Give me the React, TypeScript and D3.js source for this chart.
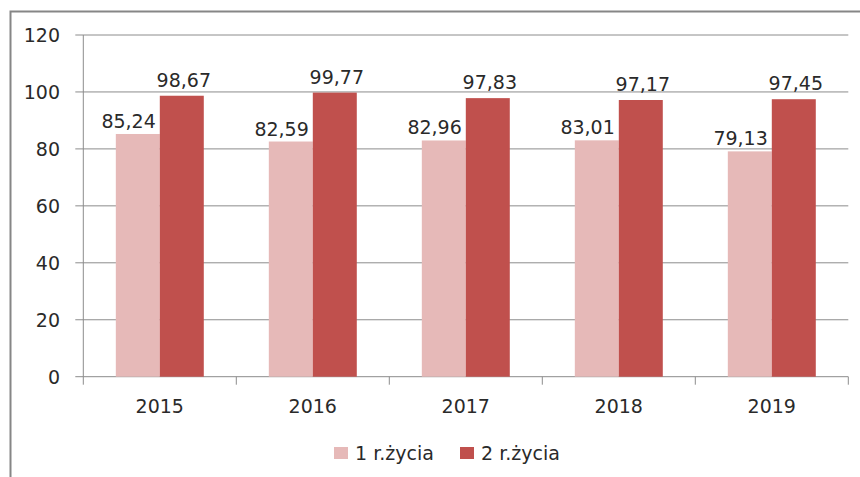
import React from 'react';
import * as d3 from 'd3';

const years = ['2015', '2016', '2017', '2018', '2019'];
const series = ['1 r.życia', '2 r.życia'];
const firstYear = [85.24, 82.59, 82.96, 83.01, 79.13];
const secondYear = [98.67, 99.77, 97.83, 97.17, 97.45];
const yTicks = [0, 20, 40, 60, 80, 100, 120];

const colors = ['#E6B9B8', '#C0504D'];
const W = 860;
const H = 477;
const font = '"DejaVu Sans", Verdana, sans-serif';
const fontSize = 19;
const textColor = '#2a2a2a';
const gridColor = '#8c8c8c';

const fmt = (v: number) => v.toFixed(2).replace('.', ',');

export default function App() {
  const left = 83.3;
  const right = 848.3;
  const top = 35;
  const bottom = 376.7;

  const y = d3.scaleLinear().domain([0, 120]).range([bottom, top]);
  const x = d3
    .scaleBand<string>()
    .domain(years)
    .range([left, right])
    .paddingInner(0.425)
    .paddingOuter(0.2125);
  const inner = d3.scaleBand<string>().domain(series).range([0, x.bandwidth()]);
  const step = x.step();
  const bounds = d3.range(years.length + 1).map(i => left + i * step);
  const values = [firstYear, secondYear];

  return (
    <svg
      width={W}
      height={H}
      style={{ position: 'fixed', left: 0, top: 0, background: '#fff' }}
      fontFamily={font}
    >
      {/* outer frame, cropped at right and bottom */}
      <rect x={10.5} y={11.5} width={W + 20} height={H + 20} fill="none" stroke="#868686" strokeWidth={2} />

      {/* gridlines + y ticks */}
      {yTicks.map(t => (
        <g key={t}>
          <line x1={left - 8} x2={right} y1={y(t)} y2={y(t)} stroke={gridColor} strokeWidth={1} />
          <text x={60} y={y(t) + 7} textAnchor="end" fontSize={fontSize} fill={textColor}>
            {t}
          </text>
        </g>
      ))}
      <line x1={left} x2={left} y1={top} y2={bottom} stroke={gridColor} strokeWidth={1} />
      {bounds.map((b, i) => (
        <line key={i} x1={b} x2={b} y1={bottom} y2={bottom + 8} stroke={gridColor} strokeWidth={1} />
      ))}

      {/* bars */}
      {years.map((yr, i) => (
        <g key={yr}>
          {series.map((s, j) => {
            const v = values[j][i];
            const bx = (x(yr) as number) + (inner(s) as number);
            const bw = inner.bandwidth();
            return (
              <rect key={s} x={bx} y={y(v)} width={bw} height={bottom - y(v)} fill={colors[j]} />
            );
          })}
        </g>
      ))}

      {/* data labels */}
      {years.map((yr, i) => {
        const x0 = (x(yr) as number) + (inner(series[0]) as number);
        const x1 = (x(yr) as number) + (inner(series[1]) as number);
        const bw = inner.bandwidth();
        return (
          <g key={yr} fontSize={fontSize} fill={textColor}>
            <text x={x0 + bw - 4} y={y(firstYear[i]) - 6} textAnchor="end">
              {fmt(firstYear[i])}
            </text>
            <text x={x1 + bw / 2 + 2} y={y(secondYear[i]) - 9} textAnchor="middle">
              {fmt(secondYear[i])}
            </text>
          </g>
        );
      })}

      {/* x labels */}
      {years.map(yr => (
        <text
          key={yr}
          x={(x(yr) as number) + x.bandwidth() / 2}
          y={413}
          textAnchor="middle"
          fontSize={fontSize}
          fill={textColor}
        >
          {yr}
        </text>
      ))}

      {/* legend */}
      {series.map((s, j) => {
        const lx = j === 0 ? 334 : 460;
        return (
          <g key={s}>
            <rect x={lx} y={447} width={14} height={12} fill={colors[j]} />
            <text x={lx + 21} y={459.5} fontSize={fontSize} fill={textColor}>
              {s}
            </text>
          </g>
        );
      })}
    </svg>
  );
}
